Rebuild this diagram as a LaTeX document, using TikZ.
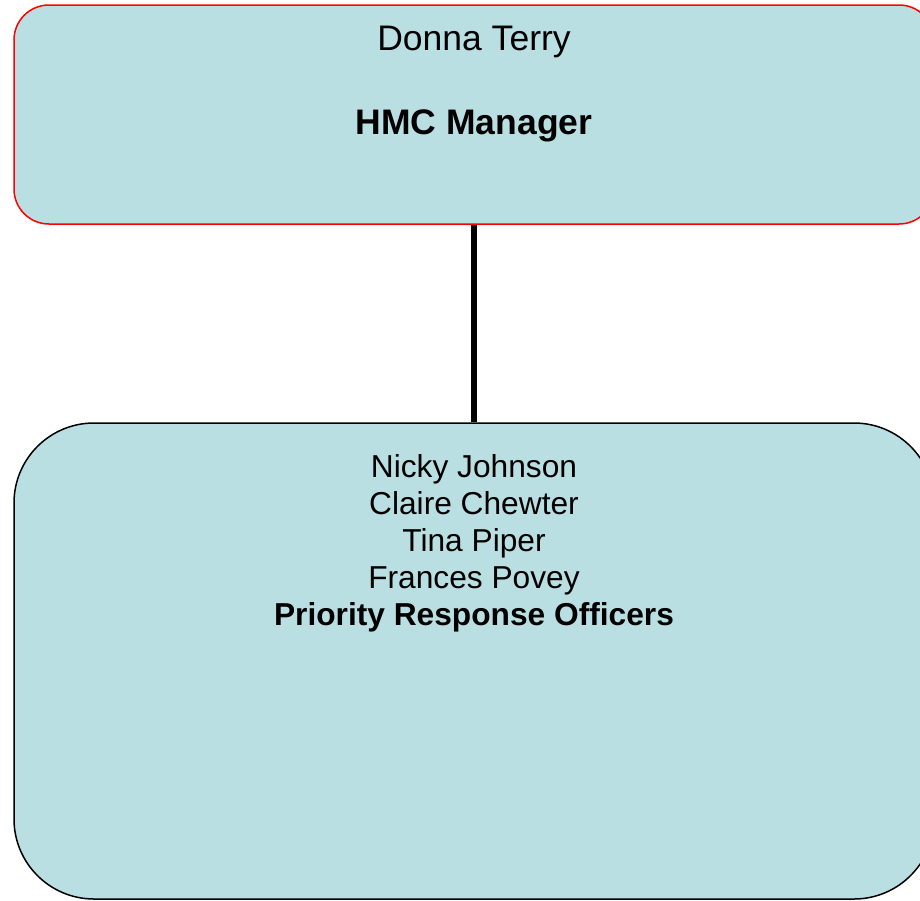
\documentclass[tikz,border=0pt]{standalone}
\usepackage{fontspec}
\setmainfont{Liberation Sans}
\definecolor{boxfill}{RGB}{186,223,227}
\definecolor{topedge}{RGB}{255,0,0}
\begin{document}
\begin{tikzpicture}[x=1pt,y=-1pt,
  card/.style={draw, fill=boxfill, line width=1.5pt, inner sep=0pt},
  topline/.style={font=\fontsize{35.5}{41}\selectfont, anchor=base, inner sep=0pt},
  staffline/.style={font=\fontsize{31.7}{37}\selectfont, anchor=base, inner sep=0pt},
  link/.style={line width=6pt}]
\useasboundingbox (0,0) rectangle (920,900);
% manager box
\node[card, draw=topedge, rounded corners=35pt, minimum width=920pt, minimum height=219pt]
  (mgr) at (474,114.5) {};
% team box
\node[card, draw=black, rounded corners=80pt, minimum width=920pt, minimum height=476pt]
  (team) at (474,661) {};
% reporting line
\draw[link] (mgr.south) -- (team.north);
% manager text
\node[topline] (mgrname) at (474,50) {Donna Terry};
\node[topline, font=\fontsize{35.5}{41}\selectfont\bfseries] (mgrrole) at (474,134) {HMC Manager};
% team text
\node[staffline] (s1) at (474,477) {Nicky Johnson};
\node[staffline] (s2) at (474,514) {Claire Chewter};
\node[staffline] (s3) at (474,551) {Tina Piper};
\node[staffline] (s4) at (474,588) {Frances Povey};
\node[staffline, font=\fontsize{31.7}{37}\selectfont\bfseries] (role) at (474,625) {Priority Response Officers};
\end{tikzpicture}
\end{document}
